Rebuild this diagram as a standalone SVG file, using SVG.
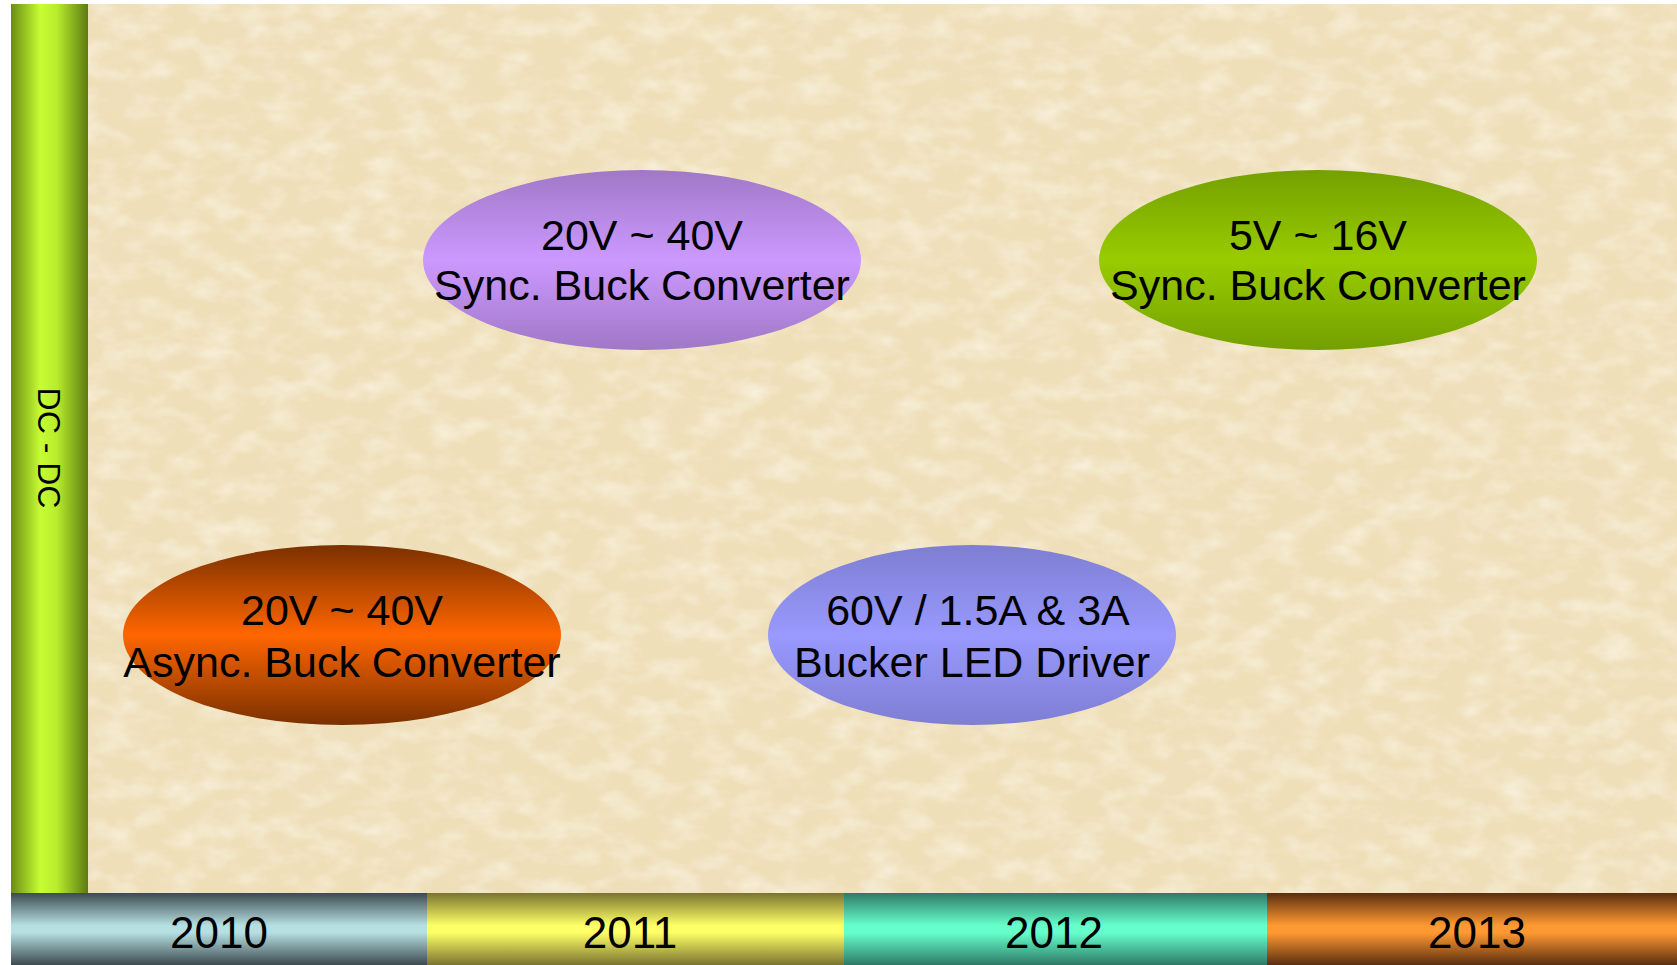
<svg xmlns="http://www.w3.org/2000/svg" width="1677" height="965" viewBox="0 0 1677 965">
  <defs>
    <style>
      .lbl { font-family: "Liberation Sans", Arial, Helvetica, sans-serif; font-size: 43px; fill: #000; text-anchor: middle; }
      .yr { font-family: "Liberation Sans", Arial, Helvetica, sans-serif; font-size: 44px; fill: #000; text-anchor: middle; }
      .side { font-family: "Liberation Sans", Arial, Helvetica, sans-serif; font-size: 32px; fill: #000; text-anchor: middle; }
    </style>
    <filter id="paper" x="0" y="0" width="100%" height="100%" filterUnits="objectBoundingBox">
      <feTurbulence type="fractalNoise" baseFrequency="0.008 0.014" numOctaves="4" seed="7" result="n1"/>
      <feColorMatrix in="n1" type="matrix" values="0 0 0 0 0.86  0 0 0 0 0.73  0 0 0 0 0.50  1.1 0 0 0 -0.5" result="dark"/>
      <feTurbulence type="fractalNoise" baseFrequency="0.03 0.05" numOctaves="3" seed="21" result="n2"/>
      <feColorMatrix in="n2" type="matrix" values="0 0 0 0 0.98  0 0 0 0 0.95  0 0 0 0 0.85  1.2 0 0 0 -0.5" result="light"/>
      <feMerge>
        <feMergeNode in="dark"/>
        <feMergeNode in="light"/>
      </feMerge>
    </filter>
    <linearGradient id="gBar" x1="0" y1="0" x2="1" y2="0">
      <stop offset="0" stop-color="#6a8c12"/>
      <stop offset="0.38" stop-color="#c6fd33"/>
      <stop offset="0.6" stop-color="#b8ec2c"/>
      <stop offset="1" stop-color="#5c7a10"/>
    </linearGradient>
    <linearGradient id="y2010" x1="0" y1="0" x2="0" y2="1">
      <stop offset="0" stop-color="#3c4a4f"/>
      <stop offset="0.45" stop-color="#b6dfe2"/>
      <stop offset="0.55" stop-color="#b6dfe2"/>
      <stop offset="1" stop-color="#3c4a4f"/>
    </linearGradient>
    <linearGradient id="y2011" x1="0" y1="0" x2="0" y2="1">
      <stop offset="0" stop-color="#7a7430"/>
      <stop offset="0.45" stop-color="#ffff66"/>
      <stop offset="0.55" stop-color="#ffff66"/>
      <stop offset="1" stop-color="#7a7430"/>
    </linearGradient>
    <linearGradient id="y2012" x1="0" y1="0" x2="0" y2="1">
      <stop offset="0" stop-color="#2e7a66"/>
      <stop offset="0.45" stop-color="#66ffcc"/>
      <stop offset="0.55" stop-color="#66ffcc"/>
      <stop offset="1" stop-color="#2e7a66"/>
    </linearGradient>
    <linearGradient id="y2013" x1="0" y1="0" x2="0" y2="1">
      <stop offset="0" stop-color="#5a2e0e"/>
      <stop offset="0.45" stop-color="#ff9933"/>
      <stop offset="0.55" stop-color="#ff9933"/>
      <stop offset="1" stop-color="#5a2e0e"/>
    </linearGradient>
    <linearGradient id="gPurple" x1="0" y1="0" x2="0" y2="1">
      <stop offset="0" stop-color="#a078c6"/>
      <stop offset="0.5" stop-color="#cc99ff"/>
      <stop offset="1" stop-color="#a078c6"/>
    </linearGradient>
    <linearGradient id="gGreen" x1="0" y1="0" x2="0" y2="1">
      <stop offset="0" stop-color="#74a000"/>
      <stop offset="0.5" stop-color="#99cc00"/>
      <stop offset="1" stop-color="#74a000"/>
    </linearGradient>
    <linearGradient id="gOrange" x1="0" y1="0" x2="0" y2="1">
      <stop offset="0" stop-color="#7a3000"/>
      <stop offset="0.5" stop-color="#ff6600"/>
      <stop offset="1" stop-color="#7a3000"/>
    </linearGradient>
    <linearGradient id="gBlue" x1="0" y1="0" x2="0" y2="1">
      <stop offset="0" stop-color="#7e7ed2"/>
      <stop offset="0.5" stop-color="#9999ff"/>
      <stop offset="1" stop-color="#7e7ed2"/>
    </linearGradient>
  </defs>

  <rect x="0" y="0" width="1677" height="965" fill="#ffffff"/>

  <g id="background">
    <rect x="88" y="4" width="1589" height="889" fill="#efdfb9"/>
    <rect x="88" y="4" width="1589" height="889" fill="#efdfb9" filter="url(#paper)"/>
  </g>

  <g id="axis-dcdc">
    <rect x="11" y="4" width="77" height="889" fill="url(#gBar)"/>
    <text class="side" transform="translate(49,448) rotate(90)" y="11">DC - DC</text>
  </g>

  <g id="timeline">
    <g id="year-2010">
      <rect x="11" y="893" width="416" height="72" fill="url(#y2010)"/>
      <text class="yr" x="219" y="948">2010</text>
    </g>
    <g id="year-2011">
      <rect x="427" y="893" width="417" height="72" fill="url(#y2011)"/>
      <text class="yr" x="630" y="948">2011</text>
    </g>
    <g id="year-2012">
      <rect x="844" y="893" width="423" height="72" fill="url(#y2012)"/>
      <text class="yr" x="1054" y="948">2012</text>
    </g>
    <g id="year-2013">
      <rect x="1267" y="893" width="410" height="72" fill="url(#y2013)"/>
      <text class="yr" x="1477" y="948">2013</text>
    </g>
  </g>

  <g id="connectors"></g>

  <g id="node-sync-20-40">
    <ellipse cx="642" cy="260" rx="219" ry="90" fill="url(#gPurple)"/>
    <text class="lbl" x="642" y="250">20V ~ 40V</text>
    <text class="lbl" x="642" y="300">Sync. Buck Converter</text>
  </g>

  <g id="node-sync-5-16">
    <ellipse cx="1318" cy="260" rx="219" ry="90" fill="url(#gGreen)"/>
    <text class="lbl" x="1318" y="250">5V ~ 16V</text>
    <text class="lbl" x="1318" y="300">Sync. Buck Converter</text>
  </g>

  <g id="node-async-20-40">
    <ellipse cx="342" cy="635" rx="219" ry="90" fill="url(#gOrange)"/>
    <text class="lbl" x="342" y="625">20V ~ 40V</text>
    <text class="lbl" x="342" y="677">Async. Buck Converter</text>
  </g>

  <g id="node-led-driver">
    <ellipse cx="972" cy="635" rx="204" ry="90" fill="url(#gBlue)"/>
    <text class="lbl" x="978" y="625">60V / 1.5A &amp; 3A</text>
    <text class="lbl" x="972" y="677">Bucker LED Driver</text>
  </g>
</svg>
